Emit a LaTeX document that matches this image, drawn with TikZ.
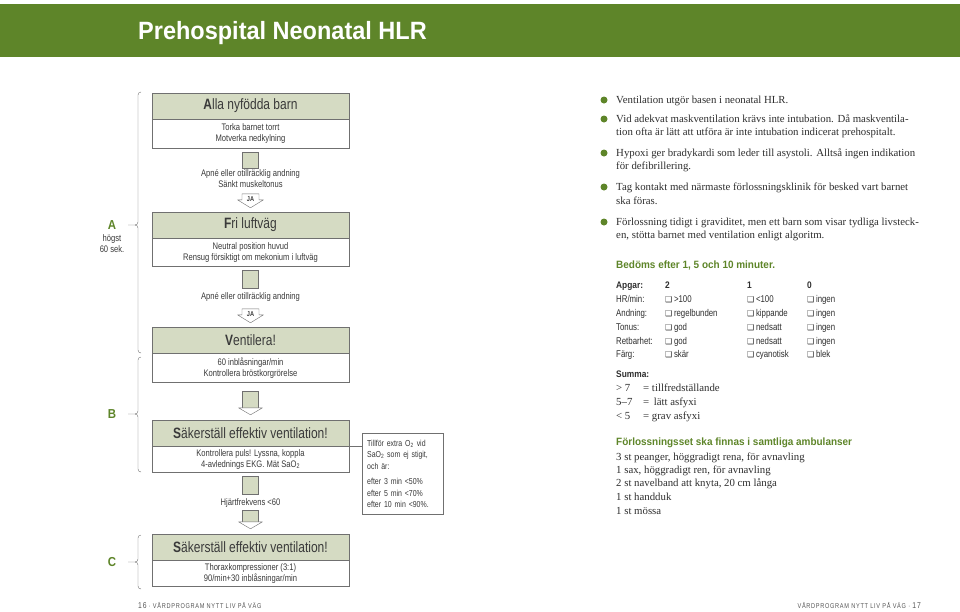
\documentclass[tikz,border=0pt]{standalone}
\usepackage{fontspec}
\setmainfont{Liberation Serif}
\newfontfamily\smal[FakeStretch=0.8]{Liberation Sans}
\newfontfamily\halvsmal[FakeStretch=0.88]{Liberation Sans}
\newfontfamily\bred[FakeStretch=0.94]{Liberation Sans}
\newfontfamily\symb{DejaVu Sans}
\usepackage{tikz}
\usetikzlibrary{positioning, calc}
\usepackage{xcolor}
\definecolor{hlrGreen}{HTML}{5E8529}
\definecolor{hlrSage}{HTML}{D5DBC3}
\definecolor{hlrText}{HTML}{3A3A3A}
\definecolor{hlrDark}{HTML}{2E2E2E}
\definecolor{hlrLine}{HTML}{707070}
\definecolor{hlrMuted}{HTML}{555555}
\newcommand{\ruta}{{\symb\fontsize{8}{9}\selectfont\char"2751}}

\begin{document}
\begin{tikzpicture}[x=1pt, y=-1pt, font=\smal\fontsize{9.5}{11}\selectfont, text=hlrText,
    rubrik/.style={draw=hlrLine, fill=hlrSage, minimum width=197, minimum height=26, inner sep=0pt, font=\smal\fontsize{15}{17}\selectfont},
    kropp/.style={draw=hlrLine, fill=white, minimum width=197, minimum height=29, inner sep=0pt, align=center},
    skaft/.style={draw=hlrLine, fill=hlrSage},
    spets/.style={draw=hlrLine, fill=white, line join=round},
    brodtext/.style={anchor=base west, inner sep=0pt, font=\fontsize{10.8}{12}\selectfont, text=hlrDark},
    tabell/.style={anchor=base west, inner sep=0pt, text=hlrDark, font=\smal\fontsize{9.8}{11}\selectfont},
    gron/.style={anchor=base west, inner sep=0pt, text=hlrGreen, font=\bred\bfseries\fontsize{10.6}{12}\selectfont}]
  \useasboundingbox (0,0) rectangle (960,611);

  % Rubrikband
  \fill[hlrGreen] (0,4) rectangle (960,57);
  \node[anchor=west, inner sep=0pt, text=white, font=\bred\bfseries\fontsize{25}{28}\selectfont] (titel) at (138,33) {Prehospital Neonatal HLR};

  % Flödesschema, rutor
  \node[rubrik] (alla) at (250.5,106) {\textbf{A}lla nyfödda barn};
  \node[kropp, below=0pt of alla] (torka) {Torka barnet torrt\\Motverka nedkylning};
  \node[align=center] (apne) at (250.5,179) {Apné eller otillräcklig andning\\Sänkt muskeltonus};
  \node[rubrik] (fri) at (250.5,225) {\textbf{F}ri luftväg};
  \node[kropp, below=0pt of fri, minimum height=28] (neutral) {Neutral position huvud\\Rensug försiktigt om mekonium i luftväg};
  \node (apne2) at (250.5,297) {Apné eller otillräcklig andning};
  \node[rubrik] (vent) at (250.5,340) {\textbf{V}entilera!};
  \node[kropp, below=0pt of vent] (inbl) {60 inblåsningar/min\\Kontrollera bröstkorgrörelse};
  \node[rubrik] (sak) at (250.5,433) {\textbf{S}äkerställ effektiv ventilation!};
  \node[kropp, below=0pt of sak, minimum height=26] (puls) {Kontrollera puls! Lyssna, koppla\\4-avlednings EKG. Mät SaO\textsubscript{2}};
  \node (hjart) at (250.5,503) {Hjärtfrekvens <60};
  \node[rubrik] (sak2) at (250.5,547) {\textbf{S}äkerställ effektiv ventilation!};
  \node[kropp, below=0pt of sak2, minimum height=26] (thorax) {Thoraxkompressioner (3:1)\\90/min+30 inblåsningar/min};

  % Syrgasruta
  \node[draw=hlrLine, fill=white, anchor=north west, minimum width=81, minimum height=81, text width=71, inner xsep=5pt, inner ysep=0pt, align=left, font=\smal\fontsize{8.7}{11.5}\selectfont] (syre) at (362,433)
    {Tillför extra O\textsubscript{2} vid\\SaO\textsubscript{2} som ej stigit,\\och är:\\[4pt]efter 3 min <50\%\\efter 5 min <70\%\\efter 10 min <90\%.};
  \draw[hlrLine] (sak.south east) -- (sak.south east -| syre.west);

  % Pilar
  \foreach \fran/\lang in {torka/16, neutral/18, puls/18}
    \draw[skaft] ($(\fran.south)+(-8,4)$) rectangle ++(16,\lang);
  \foreach \till [count=\i] in {fri, vent} {
    \draw[spets] ($(\till.north)+(0,-4)$) coordinate (ja\i) -- ++(-13,-8) -- ++(4.5,0) -- ++(0,-6) -- ++(17,0) -- ++(0,6) -- ++(4.5,0) -- cycle;
    \node[inner sep=0pt, font=\smal\bfseries\fontsize{7}{8}\selectfont] (jatext\i) at ($(ja\i)+(0,-9)$) {JA};
  }
  \foreach \till/\lang in {sak/17, sak2/12} {
    \draw[skaft] ($(\till.north)+(-8,-12)$) rectangle ++(16,-\lang);
    \draw[spets] ($(\till.north)+(0,-5)$) -- ++(-12,-7) -- ++(24,0) -- cycle;
  }

  % Klamrar A, B, C
  \foreach \topp/\mitt/\botten/\bokstav in {92/225/353/A, 357/414/472/B, 535/562/589/C} {
    \draw[hlrLine] (141,\topp) to[out=180,in=90] (138,\topp+3) -- (138,\mitt-3) to[out=-90,in=0] (135,\mitt) -- (128,\mitt);
    \draw[hlrLine] (135,\mitt) to[out=0,in=90] (138,\mitt+3) -- (138,\botten-3) to[out=-90,in=180] (141,\botten);
    \node[inner sep=0pt, text=hlrGreen, font=\halvsmal\bfseries\fontsize{13}{14}\selectfont] (etikett\bokstav) at (112,\mitt) {\bokstav};
  }
  \node[align=center, inner sep=0pt] (hogst) at (112,244) {högst\\60 sek.};

  % Högerspalt
  \foreach \y in {100,119,153,187,222}
    \fill[hlrGreen] (604,\y) circle (3.5);
  \foreach \y/\rad [count=\i] in {
      100/{Ventilation utgör basen i neonatal HLR.},
      119/{Vid adekvat maskventilation krävs inte intubation. Då maskventila-},
      132/{tion ofta är lätt att utföra är inte intubation indicerat prehospitalt.},
      153/{Hypoxi ger bradykardi som leder till asystoli. Alltså ingen indikation},
      166/{för defibrillering.},
      187/{Tag kontakt med närmaste förlossningsklinik för besked vart barnet},
      201/{ska föras.},
      222/{Förlossning tidigt i graviditet, men ett barn som visar tydliga livsteck-},
      235/{en, stötta barnet med ventilation enligt algoritm.}}
    \node[brodtext] (rad\i) at (616,\y+3.5) {\rad};
  \node[gron] (bedoms) at (616,268) {Bedöms efter 1, 5 och 10 minuter.};

  % Apgar
  \node[tabell, font=\halvsmal\bfseries\fontsize{9.5}{11}\selectfont] (apgar) at (616,288.5) {Apgar:};
  \foreach \x/\poang in {665/2, 747/1, 807/0}
    \node[tabell, font=\halvsmal\bfseries\fontsize{9.5}{11}\selectfont] (poang\poang) at (\x,288.5) {\poang};
  \foreach \y/\namn/\tva/\ett/\noll [count=\i] in {
      299/{HR/min:}/{>100}/{<100}/ingen,
      313/Andning:/regelbunden/kippande/ingen,
      327/Tonus:/god/nedsatt/ingen,
      341/Retbarhet:/god/nedsatt/ingen,
      354/Färg:/skär/cyanotisk/blek} {
    \node[tabell] (namn\i) at (616,\y+3.5) {\namn};
    \node[tabell] (tva\i) at (665,\y+3.5) {\ruta\,\tva};
    \node[tabell] (ett\i) at (747,\y+3.5) {\ruta\,\ett};
    \node[tabell] (noll\i) at (807,\y+3.5) {\ruta\,\noll};
  }
  \node[tabell, font=\halvsmal\bfseries\fontsize{9.5}{11}\selectfont] (summa) at (616,377.5) {Summa:};
  \foreach \y/\grans/\betyd [count=\i] in {388/{> 7}/tillfredställande, 402/{5–7}/{\,lätt asfyxi}, 416/{< 5}/{grav asfyxi}} {
    \node[brodtext] (grans\i) at (616,\y+3.5) {\grans};
    \node[brodtext] (betyd\i) at (643,\y+3.5) {= \betyd};
  }

  % Förlossningsset
  \node[gron] (setet) at (616,445) {Förlossningsset ska finnas i samtliga ambulanser};
  \foreach \y/\rad [count=\i] in {
      457/{3 st peanger, höggradigt rena, för avnavling},
      470/{1 sax, höggradigt ren, för avnavling},
      483/{2 st navelband att knyta, 20 cm långa},
      497/{1 st handduk},
      511/{1 st mössa}}
    \node[brodtext] (sak\i) at (616,\y+3.5) {\rad};

  % Sidfot
  \node[anchor=west, inner sep=0pt, text=hlrMuted, font=\smal\fontsize{7}{8}\selectfont\addfontfeature{LetterSpace=10}] (sid16) at (138,605) {{\fontsize{8.5}{9}\selectfont 16} · VÅRDPROGRAM NYTT LIV PÅ VÄG};
  \node[anchor=east, inner sep=0pt, text=hlrMuted, font=\smal\fontsize{7}{8}\selectfont\addfontfeature{LetterSpace=10}] (sid17) at (921,605) {VÅRDPROGRAM NYTT LIV PÅ VÄG · {\fontsize{8.5}{9}\selectfont 17}};
\end{tikzpicture}
\end{document}
